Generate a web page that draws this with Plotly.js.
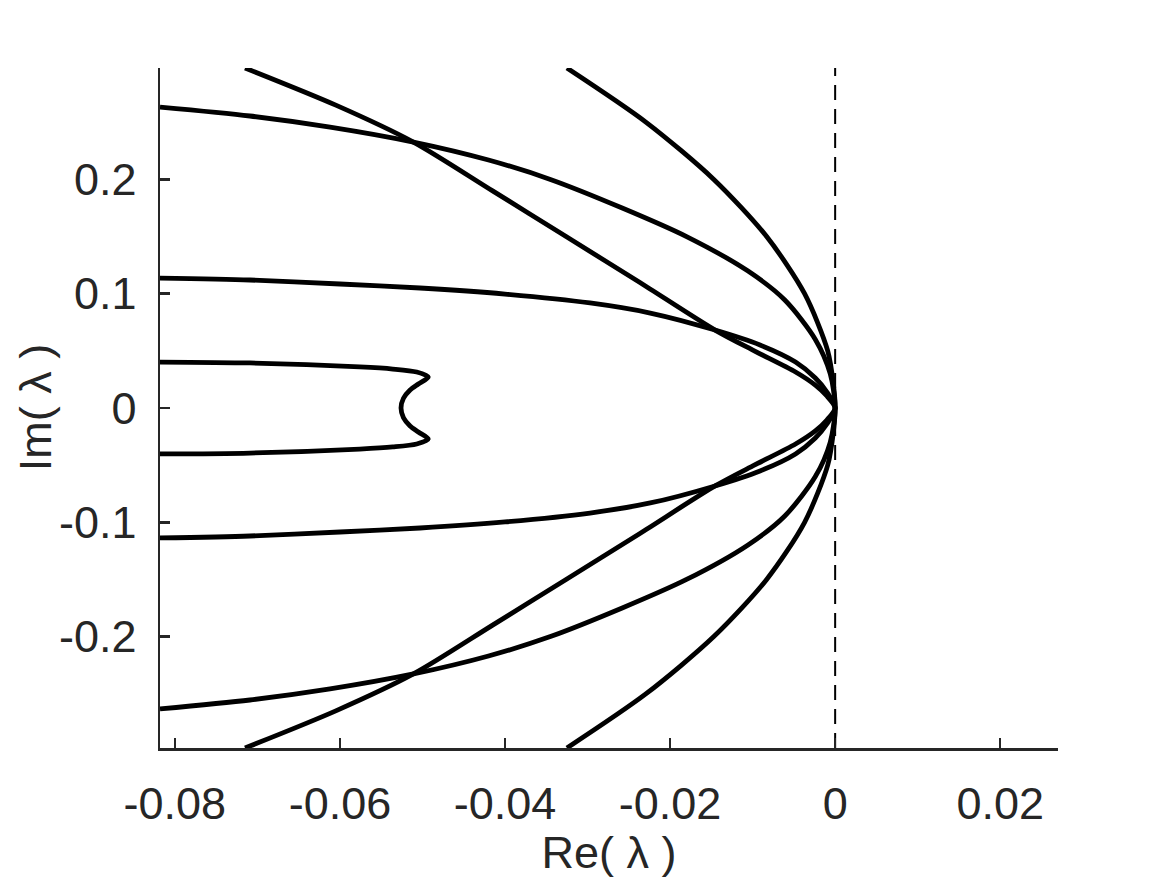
<!DOCTYPE html>
<html>
<head>
<meta charset="utf-8">
<script src="https://cdn.plot.ly/plotly-3.0.1.min.js"></script>
<style>html,body{margin:0;padding:0;background:#fff;}#chart{width:1169px;height:878px;}</style>
</head>
<body>
<div id="chart"></div>
<script>
// ---- Data (Re(lambda), Im(lambda)) ----
// Steep branch (outermost, reaches the top/bottom edge near Re=-0.0325)
var steepX = [-0.0325, -0.0229, -0.0147, -0.0083, -0.0037, -0.0009, -0.0002, 0, -0.0002, -0.0009, -0.0037, -0.0083, -0.0147, -0.0229, -0.0325];
var steepY = [0.2975, 0.25, 0.2, 0.15, 0.1, 0.05, 0.02, 0, -0.02, -0.05, -0.1, -0.15, -0.2, -0.25, -0.2975];

// Branch entering at top near Re=-0.0715
var diagX = [-0.0715, -0.0605, -0.0511, -0.0415, -0.0326, -0.0237, -0.01455, -0.0098, -0.0048, -0.0024, -0.0010, 0, -0.0010, -0.0024, -0.0048, -0.0098, -0.01455, -0.0237, -0.0326, -0.0415, -0.0511, -0.0605, -0.0715];
var diagY = [0.2975, 0.265, 0.2327, 0.19, 0.15, 0.11, 0.0682, 0.05, 0.0315, 0.020, 0.0105, 0, -0.0105, -0.020, -0.0315, -0.05, -0.0682, -0.11, -0.15, -0.19, -0.2327, -0.265, -0.2975];

// Branch entering from left edge at Im=+-0.263
var outerX = [-0.0818, -0.0709, -0.0612, -0.0511, -0.0420, -0.0345, -0.0258, -0.0180, -0.0106, -0.0061, -0.0024, -0.0006, 0, -0.0006, -0.0024, -0.0061, -0.0106, -0.0180, -0.0258, -0.0345, -0.0420, -0.0511, -0.0612, -0.0709, -0.0818];
var outerY = [0.2633, 0.2555, 0.2458, 0.2327, 0.217, 0.2, 0.175, 0.15, 0.12, 0.0945, 0.06, 0.03, 0, -0.03, -0.06, -0.0945, -0.12, -0.15, -0.175, -0.2, -0.217, -0.2327, -0.2458, -0.2555, -0.2633];

// Branch entering from left edge at Im=+-0.114
var midX = [-0.0818, -0.0709, -0.0600, -0.0503, -0.0400, -0.0297, -0.0224, -0.01455, -0.0091, -0.0048, -0.0024, -0.0010, 0, -0.0010, -0.0024, -0.0048, -0.0091, -0.01455, -0.0224, -0.0297, -0.0400, -0.0503, -0.0600, -0.0709, -0.0818];
var midY = [0.1137, 0.1120, 0.1085, 0.1050, 0.0997, 0.0919, 0.0831, 0.0682, 0.0551, 0.0402, 0.0262, 0.0140, 0, -0.0140, -0.0262, -0.0402, -0.0551, -0.0682, -0.0831, -0.0919, -0.0997, -0.1050, -0.1085, -0.1120, -0.1137];

// Loop near Re=-0.05
var loopX = [-0.0818, -0.0709, -0.0576, -0.0536, -0.0507, -0.0493, -0.0505, -0.0515, -0.0523, -0.0526, -0.0523, -0.0515, -0.0505, -0.0493, -0.0507, -0.0536, -0.0576, -0.0709, -0.0818];
var loopY = [0.0402, 0.0394, 0.0359, 0.0341, 0.0315, 0.0271, 0.0210, 0.0157, 0.0085, 0, -0.0085, -0.0157, -0.0210, -0.0271, -0.0315, -0.0341, -0.0359, -0.0394, -0.0402];

// Dashed reference line Re = 0
var zeroX = [0, 0];
var zeroY = [-0.2975, 0.2975];

// Ticks
var xTickVals = [-0.08, -0.06, -0.04, -0.02, 0, 0.02];
var xTickText = ['-0.08', '-0.06', '-0.04', '-0.02', '0', '0.02'];
var yTickVals = [-0.2, -0.1, 0, 0.1, 0.2];
var yTickText = ['-0.2', '-0.1', '0', '0.1', '0.2'];

var xRange = [-0.0818, 0.027];
var yRange = [-0.2975, 0.2975];

var xTitle = 'Re( λ )';
var yTitle = 'Im( λ )';

// ---- Plot ----
function curve(x, y) {
  return {x: x, y: y, type: 'scatter', mode: 'lines',
    line: {color: '#000000', width: 4.8, shape: 'spline', smoothing: 0.8},
    hoverinfo: 'skip', showlegend: false};
}
var traces = [
  {x: zeroX, y: zeroY, type: 'scatter', mode: 'lines',
   line: {color: '#000000', width: 2, dash: '15px,9px'}, hoverinfo: 'skip', showlegend: false},
  curve(steepX, steepY),
  curve(diagX, diagY),
  curve(outerX, outerY),
  curve(midX, midY),
  curve(loopX, loopY)
];

var fontFam = '"Liberation Sans", Arial, Helvetica, sans-serif';
var axisColor = '#262626';
var layout = {
  width: 1169, height: 878,
  paper_bgcolor: '#ffffff', plot_bgcolor: '#ffffff',
  margin: {l: 160, r: 111, t: 68, b: 130, pad: 0},
  font: {family: fontFam, size: 45, color: axisColor},
  showlegend: false,
  xaxis: {
    range: xRange, showgrid: false, zeroline: false,
    showline: true, linecolor: axisColor, linewidth: 2.5, mirror: false,
    ticks: 'inside', ticklen: 10, tickwidth: 2.5, tickcolor: axisColor,
    tickmode: 'array', tickvals: xTickVals, ticktext: xTickText,
    tickfont: {family: fontFam, size: 45, color: axisColor},
    ticklabelstandoff: 14,
    title: {text: xTitle, font: {family: fontFam, size: 45, color: axisColor}, standoff: 6},
    automargin: false, fixedrange: true
  },
  yaxis: {
    range: yRange, showgrid: false, zeroline: false,
    showline: true, linecolor: axisColor, linewidth: 2.5, mirror: false,
    ticks: 'inside', ticklen: 10, tickwidth: 2.5, tickcolor: axisColor,
    tickmode: 'array', tickvals: yTickVals, ticktext: yTickText,
    tickfont: {family: fontFam, size: 45, color: axisColor},
    ticklabelstandoff: 12,
    automargin: false, fixedrange: true
  },
  annotations: [{
    text: yTitle, xref: 'paper', yref: 'paper', x: -0.139, y: 0.5,
    xanchor: 'center', yanchor: 'middle', textangle: -90, showarrow: false,
    font: {family: fontFam, size: 45, color: axisColor}
  }]
};
Plotly.newPlot('chart', traces, layout, {staticPlot: true, displayModeBar: false});
</script>
</body>
</html>
